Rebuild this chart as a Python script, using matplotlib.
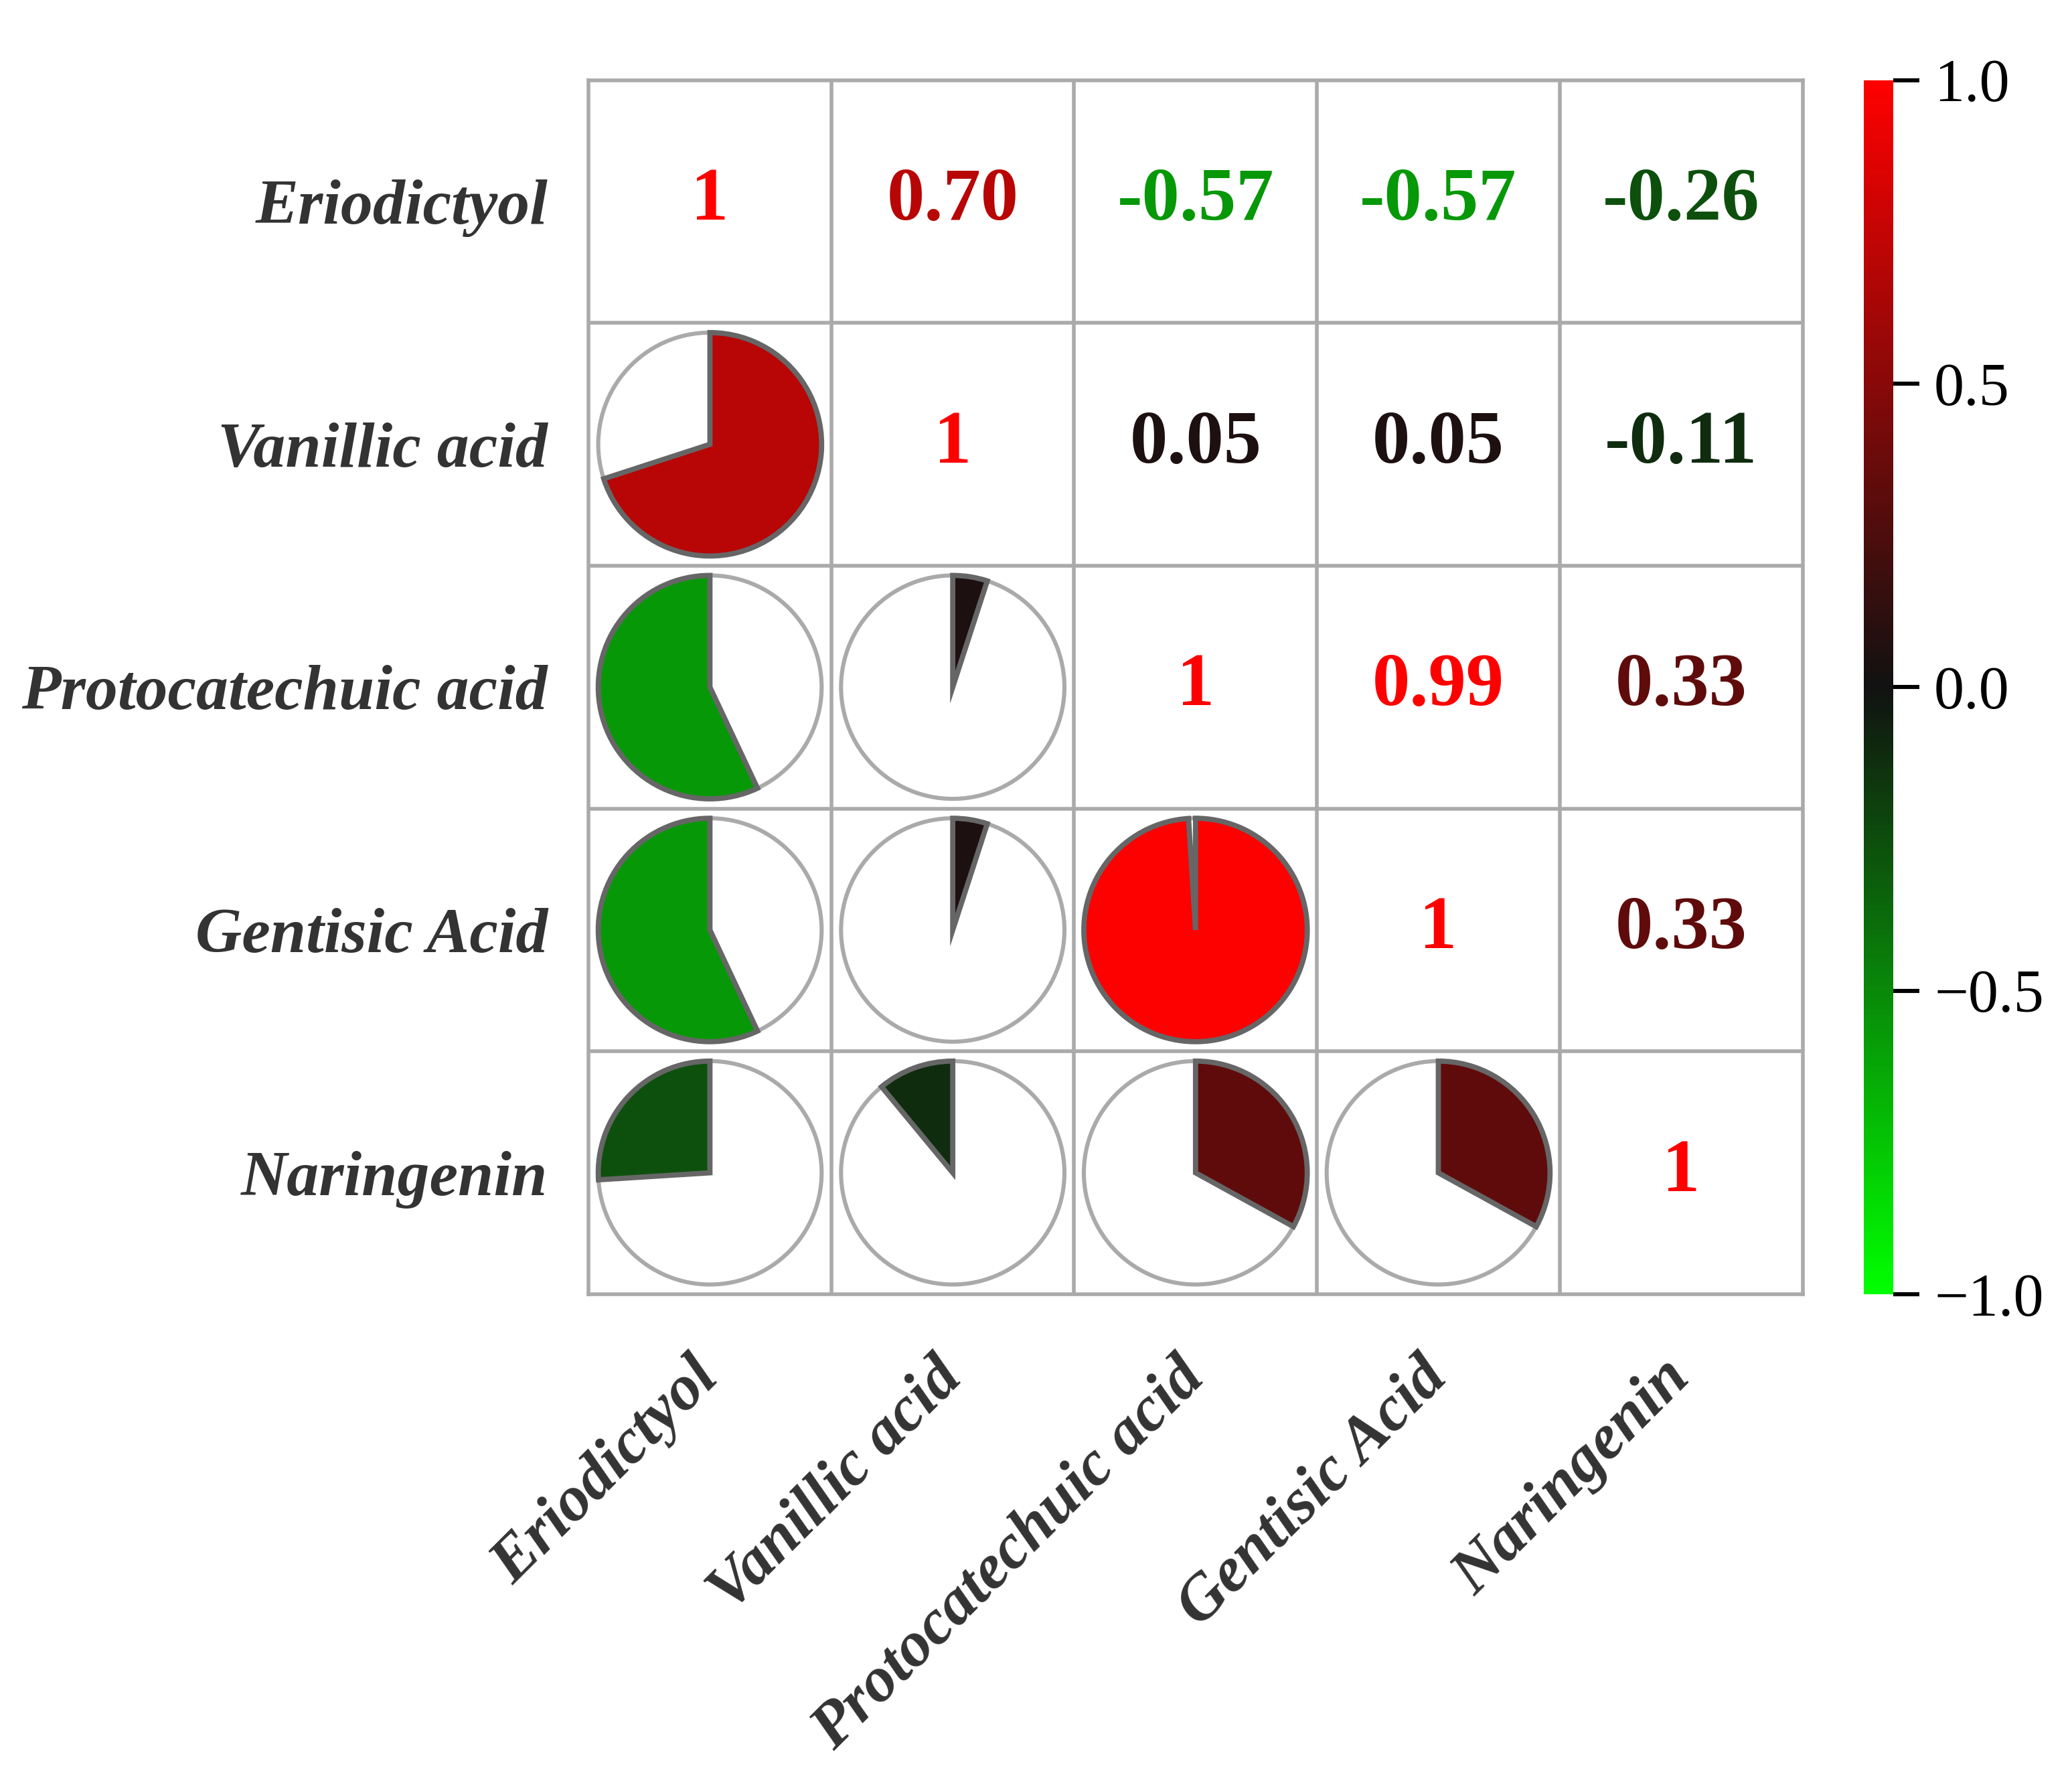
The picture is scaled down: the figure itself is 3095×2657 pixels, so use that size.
import numpy as np
import matplotlib
matplotlib.use('Agg')
import matplotlib.pyplot as plt
from matplotlib.patches import Wedge, Circle
from matplotlib.colors import LinearSegmentedColormap, Normalize
from matplotlib.cm import ScalarMappable

plt.rcParams['font.family'] = 'Liberation Serif'

compounds = ['Eriodictyol', 'Vanillic acid', 'Protocatechuic acid', 'Gentisic Acid', 'Naringenin']
corr = np.array([
    [1.00, 0.70, -0.57, -0.57, -0.26],
    [0.70, 1.00, 0.05, 0.05, -0.11],
    [-0.57, 0.05, 1.00, 0.99, 0.33],
    [-0.57, 0.05, 0.99, 1.00, 0.33],
    [-0.26, -0.11, 0.33, 0.33, 1.00],
])

cmap = LinearSegmentedColormap.from_list('gkr', ['#00ff00', '#111111', '#ff0000'])
norm = Normalize(-1, 1)
n = len(compounds)

fig = plt.figure(figsize=(15.475, 13.285), dpi=200)
ax = fig.add_axes([0.2835, 0.2725, 0.587, 0.6825])
ax.set_xlim(0, n)
ax.set_ylim(n, 0)
ax.set_aspect('equal')

grid_c = '#aaaaaa'
for k in range(1, n):
    ax.axhline(k, color=grid_c, lw=2.0, zorder=1)
    ax.axvline(k, color=grid_c, lw=2.0, zorder=1)
for s in ax.spines.values():
    s.set_color(grid_c)
    s.set_linewidth(2.0)

rad = 0.46
for i in range(n):
    for j in range(n):
        v = corr[i, j]
        cx, cy = j + 0.5, i + 0.5
        if i == j:
            ax.text(cx, cy, '1', color='#ff0000', fontsize=40.5, fontweight='bold',
                    ha='center', va='center')
        elif j > i:
            ax.text(cx, cy, '%.2f' % v, color=cmap(norm(v)), fontsize=40.5,
                    fontweight='bold', ha='center', va='center')
        else:
            # y axis is inverted, so angles run clockwise on screen
            ax.add_patch(Circle((cx, cy), rad, facecolor='white', edgecolor=grid_c,
                                lw=2.2, zorder=2))
            if v > 0:
                t1, t2 = 270, 270 + 360 * v
            else:
                t1, t2 = 270 + 360 * v, 270
            ax.add_patch(Wedge((cx, cy), rad, t1, t2, facecolor=cmap(norm(v)),
                               edgecolor='#666666', lw=2.8, zorder=3))

ax.set_xticks(np.arange(n) + 0.5)
ax.set_yticks(np.arange(n) + 0.5)
ax.set_xticklabels(compounds, rotation=45, ha='right', va='center', rotation_mode='anchor',
                   fontsize=34.5, fontweight='bold', style='italic', color='#333333')
ax.set_yticklabels(compounds, fontsize=34.5, fontweight='bold', style='italic',
                   color='#333333')
ax.tick_params(length=0, pad=22)
ax.tick_params(axis='x', pad=40)

cax = fig.add_axes([0.8995, 0.2725, 0.0142, 0.6825])
cb = fig.colorbar(ScalarMappable(norm=norm, cmap=cmap), cax=cax)
cb.outline.set_visible(False)
cb.set_ticks([-1.0, -0.5, 0.0, 0.5, 1.0])
cb.ax.tick_params(length=14, width=2.2, labelsize=32.5, pad=8)

fig.savefig('out.png', dpi=200)
